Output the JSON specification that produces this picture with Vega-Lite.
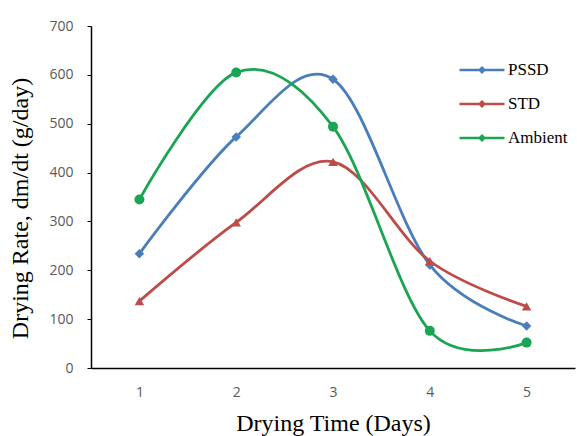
{
  "$schema": "https://vega.github.io/schema/vega-lite/v6.json",
  "width": 484,
  "height": 342,
  "autosize": {"type": "none"},
  "padding": {"left": 91, "top": 26, "right": 2, "bottom": 68},
  "background": "white",
  "config": {
    "view": {"stroke": null},
    "axis": {
      "grid": false,
      "domainColor": "#000000",
      "domainWidth": 1.5,
      "tickColor": "#000000",
      "labelFont": "Open Sans",
      "labelFontSize": 14,
      "labelColor": "#595959",
      "titleFont": "Liberation Serif",
      "titleFontWeight": "normal",
      "titleColor": "#000000",
      "titleFontSize": 24
    },
    "legend": {
      "labelFont": "Liberation Serif",
      "labelFontSize": 17,
      "labelColor": "#000000"
    }
  },
  "data": {
    "values": [
      {"day": 1, "series": "PSSD", "rate": 234},
      {"day": 2, "series": "PSSD", "rate": 473},
      {"day": 3, "series": "PSSD", "rate": 591},
      {"day": 4, "series": "PSSD", "rate": 211},
      {"day": 5, "series": "PSSD", "rate": 86},
      {"day": 1, "series": "STD", "rate": 137},
      {"day": 2, "series": "STD", "rate": 298},
      {"day": 3, "series": "STD", "rate": 422},
      {"day": 4, "series": "STD", "rate": 219},
      {"day": 5, "series": "STD", "rate": 126},
      {"day": 1, "series": "Ambient", "rate": 345},
      {"day": 2, "series": "Ambient", "rate": 605},
      {"day": 3, "series": "Ambient", "rate": 494},
      {"day": 4, "series": "Ambient", "rate": 76},
      {"day": 5, "series": "Ambient", "rate": 52}
    ]
  },
  "encoding": {
    "x": {
      "field": "day",
      "type": "ordinal",
      "scale": {"type": "point", "padding": 0.5},
      "axis": {"title": "Drying Time (Days)", "labelAngle": 0, "ticks": false, "labelPadding": 17, "titlePadding": 12}
    },
    "y": {
      "field": "rate",
      "type": "quantitative",
      "scale": {"domain": [0, 700]},
      "axis": {"title": "Drying Rate, dm/dt (g/day)", "values": [0, 100, 200, 300, 400, 500, 600, 700], "tickSize": 4, "labelPadding": 14, "titlePadding": 16, "titleY": 182}
    }
  },
  "layer": [
    {
      "mark": {"type": "line", "interpolate": "cardinal", "strokeWidth": 2.8},
      "encoding": {
        "color": {
          "field": "series",
          "type": "nominal",
          "scale": {"domain": ["PSSD", "STD", "Ambient"], "range": ["#4A7EBB", "#BE4B48", "#1AA553"]},
          "legend": {
            "title": null,
            "orient": "none",
            "legendX": 367,
            "legendY": 20,
            "padding": 0,
            "symbolType": "M-1,0H1M0,-0.1L0.1,0L0,0.1L-0.1,0Z",
            "symbolSize": 2025,
            "symbolStrokeWidth": 2.5,
            "labelFont": "Liberation Serif",
            "labelFontSize": 17,
            "labelColor": "#000000",
            "labelOffset": 2,
            "rowPadding": 2
          }
        }
      }
    },
    {
      "transform": [{"filter": "datum.series === 'PSSD'"}],
      "mark": {"type": "point", "filled": true, "size": 90, "opacity": 1, "shape": "diamond", "color": "#4A7EBB"}
    },
    {
      "transform": [{"filter": "datum.series === 'STD'"}],
      "mark": {"type": "point", "filled": true, "size": 90, "opacity": 1, "shape": "triangle-up", "color": "#BE4B48"}
    },
    {
      "transform": [{"filter": "datum.series === 'Ambient'"}],
      "mark": {"type": "point", "filled": true, "size": 100, "opacity": 1, "shape": "circle", "color": "#1AA553"}
    }
  ]
}
